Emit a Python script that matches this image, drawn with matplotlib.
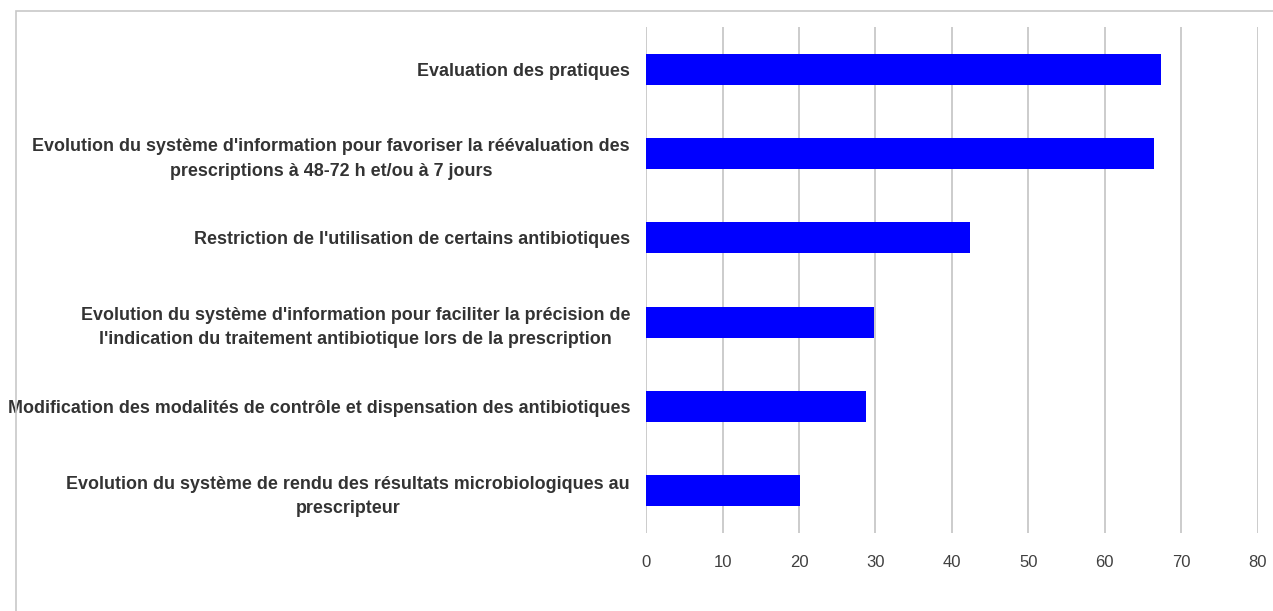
import matplotlib
matplotlib.use("Agg")
import matplotlib.pyplot as plt
from matplotlib.patches import Rectangle

# Categories (top to bottom) and values
categories = [
    "Evaluation des pratiques",
    "Evolution du système d'information pour favoriser la réévaluation des\nprescriptions à 48-72 h et/ou à 7 jours",
    "Restriction de l'utilisation de certains antibiotiques",
    "Evolution du système d'information pour faciliter la précision de\nl'indication du traitement antibiotique lors de la prescription",
    "Modification des modalités de contrôle et dispensation des antibiotiques",
    "Evolution du système de rendu des résultats microbiologiques au\nprescripteur",
]
values = [67.4, 66.4, 42.4, 29.8, 28.8, 20.2]
xticks = [0, 10, 20, 30, 40, 50, 60, 70, 80]

plt.rcParams["font.family"] = ["Liberation Sans", "DejaVu Sans"]

fig = plt.figure(figsize=(12.73, 6.11), dpi=100)
ax = fig.add_axes([0.5075, 0.1277, 0.4805, 0.8281])

pos = list(range(len(categories)))
ax.barh(pos, values, height=0.37, color="#0000FF", zorder=3)
ax.set_ylim(len(categories) - 0.5, -0.5)
ax.set_xlim(0, 80)

ax.set_xticks(xticks)
ax.set_xticklabels([str(t) for t in xticks], fontsize=12, color="#404040")
ax.set_yticks(pos)
ax.set_yticklabels(categories, fontsize=12.9, fontweight="bold", color="#333333",
                   ma="center", linespacing=1.55)
ax.tick_params(axis="x", length=0, pad=16)
ax.tick_params(axis="y", length=0, pad=11.5)

ax.grid(axis="x", color="#c8c8c8", linewidth=1.3, zorder=0)
ax.grid(axis="y", visible=False)
for s in ax.spines.values():
    s.set_visible(False)

# Chart area border (cropped in the original)
fig.patches.append(Rectangle((16 / 1273, -0.1), 1.2, 1 - 11 / 611 + 0.1,
                             transform=fig.transFigure, fill=False,
                             edgecolor="#c8c8c8", linewidth=1.2, zorder=0))

fig.savefig("out.png", dpi=100)
